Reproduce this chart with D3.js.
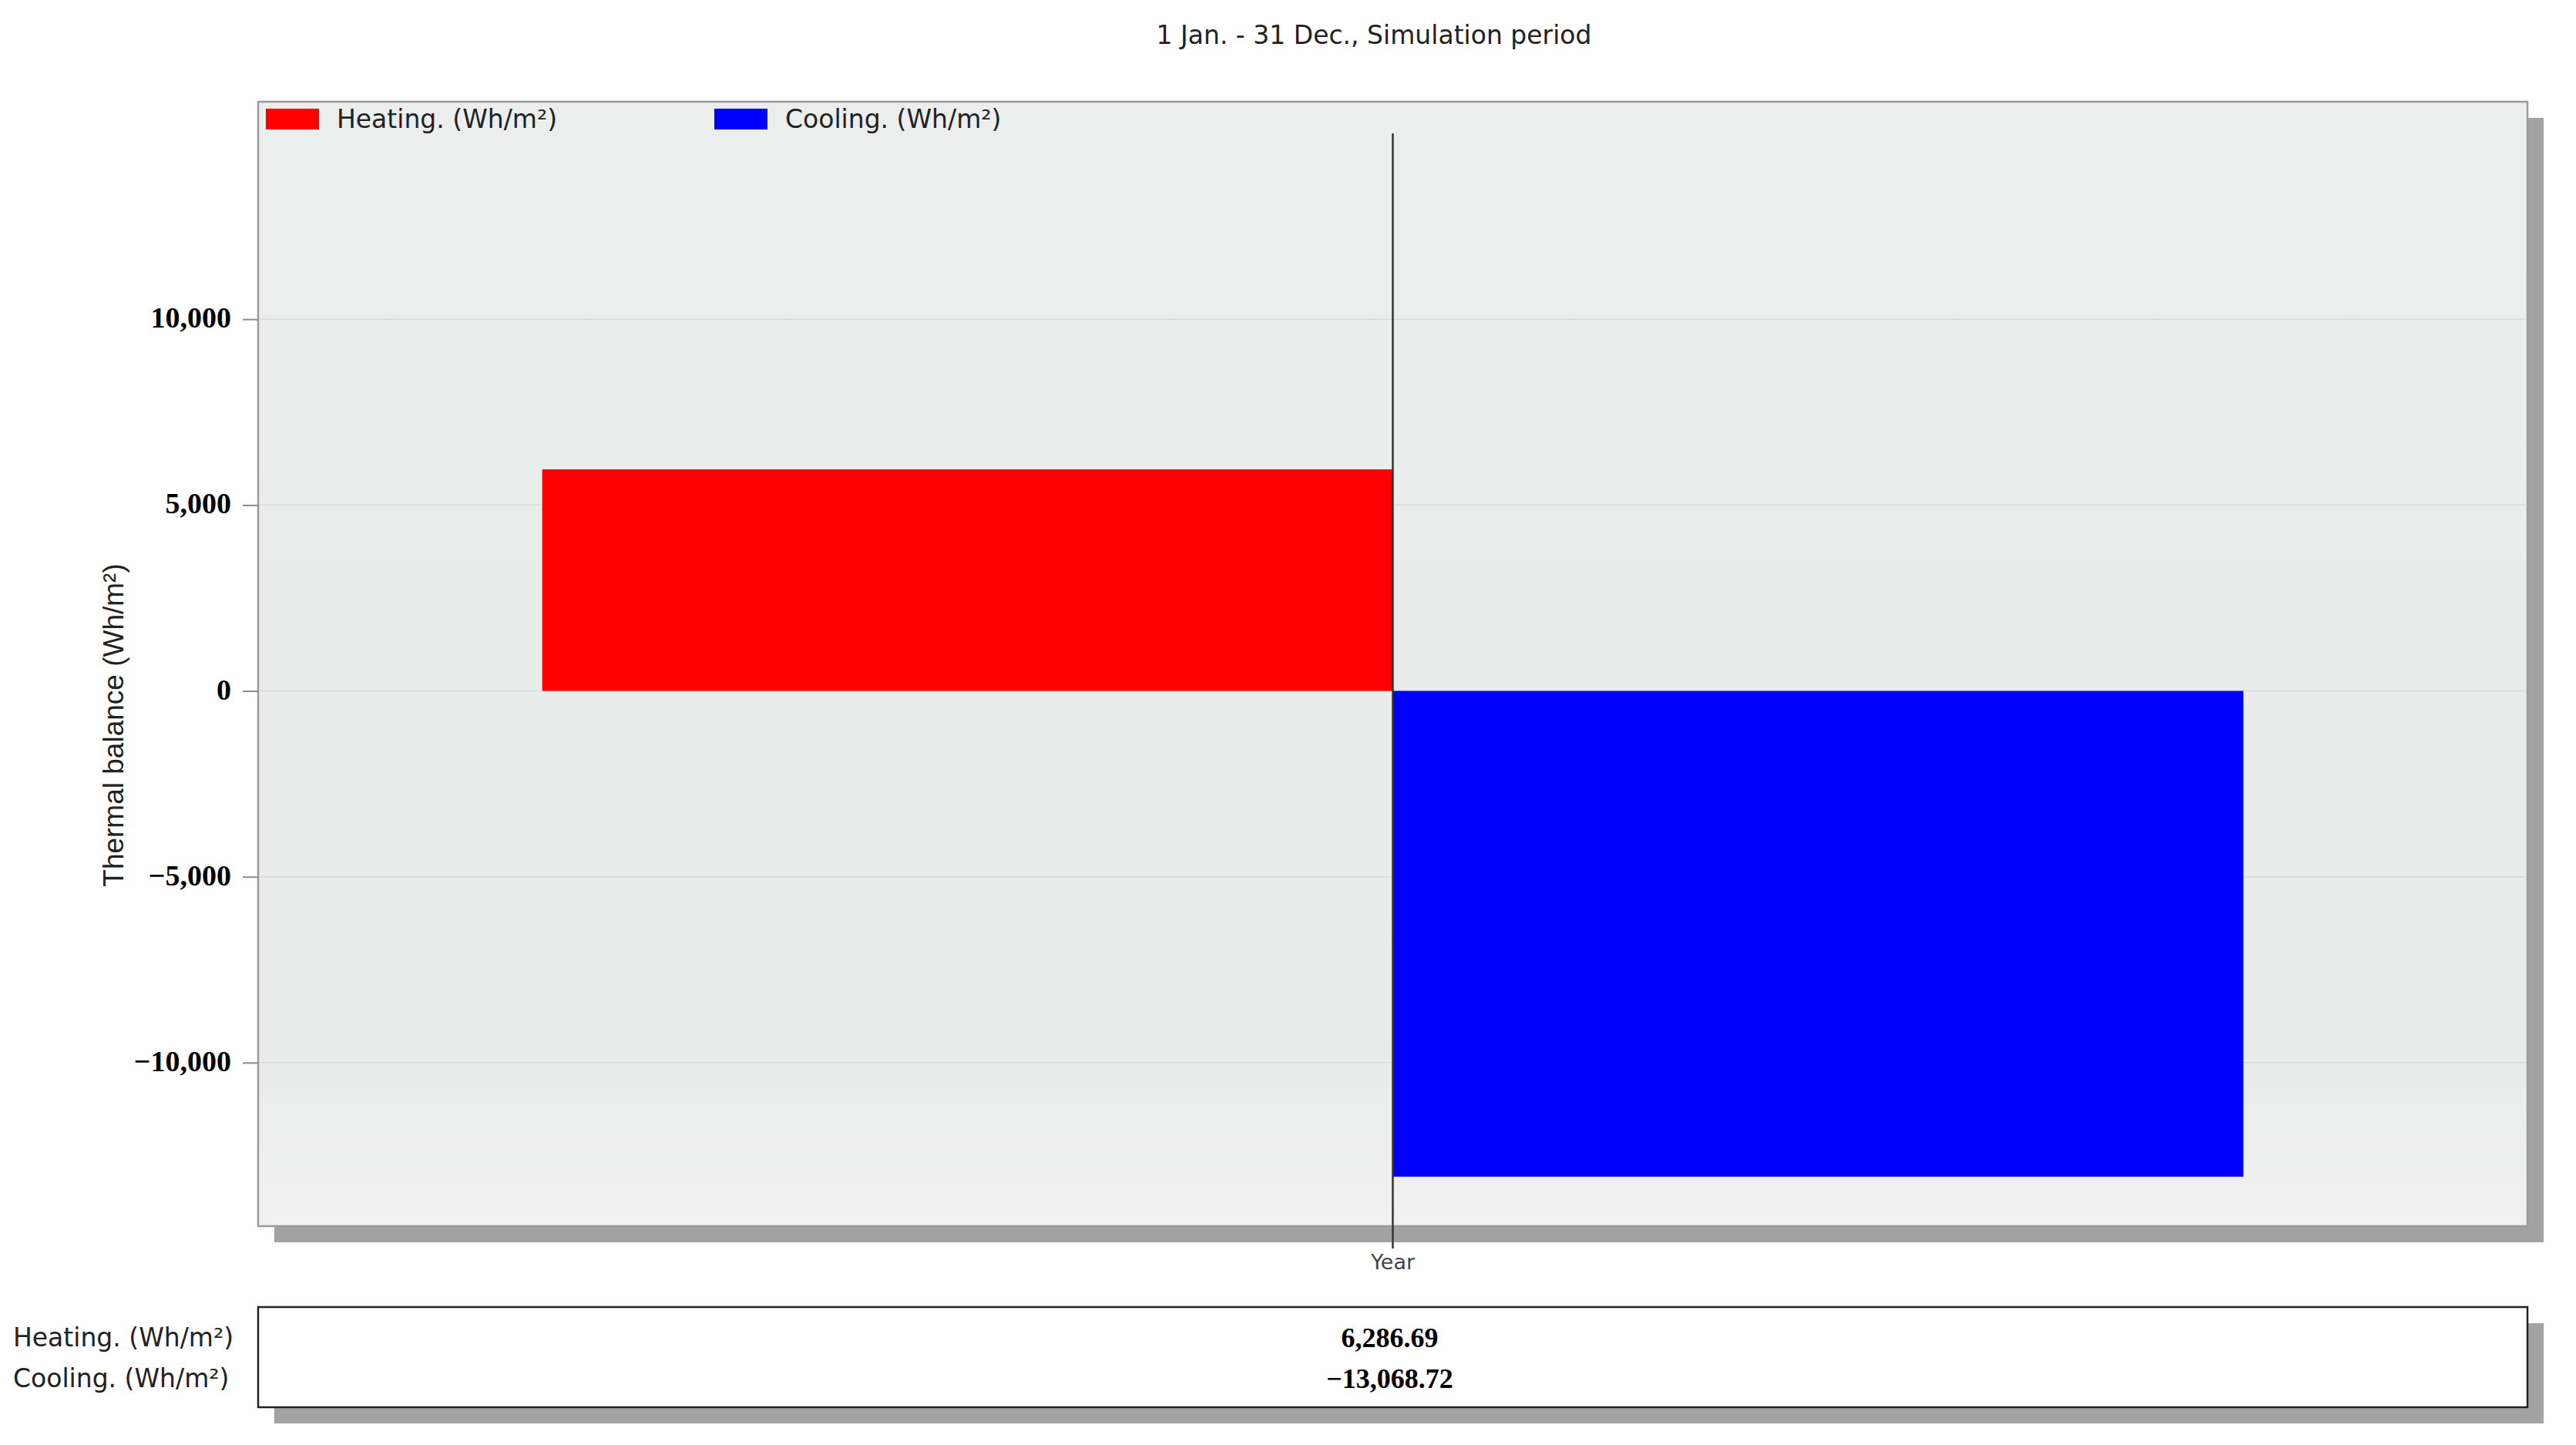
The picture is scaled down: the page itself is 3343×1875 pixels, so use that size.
<!DOCTYPE html>
<html>
<head>
<meta charset="utf-8">
<script src="https://cdn.jsdelivr.net/npm/d3@7"></script>
<style>
  html, body { margin: 0; padding: 0; background: #fff; }
  .tick-label text { font-family: "Liberation Serif", "Times New Roman", serif; font-weight: bold; }
</style>
</head>
<body>
<div id="chart"></div>
<script>
// data
var categories = ["Year"];
var seriesNames = ["Heating. (Wh/m\u00b2)", "Cooling. (Wh/m\u00b2)"];
var barValues = [5960, -13068.72];          // bar heights as drawn
var tableValues = [6286.69, -13068.72];     // values printed in the table under the chart
var yTicks = [-10000, -5000, 0, 5000, 10000];
var yDomain = [-15000, 15000];
var titleText = "1 Jan. - 31 Dec., Simulation period";
var yLabel = "Thermal balance (Wh/m\u00b2)";

var W = 3343, H = 1875;
var box = {left: 335, right: 3280, top: 132, bottom: 1591};
var shadow = 21;

var color = d3.scaleOrdinal().domain(seriesNames).range(["#ff0000", "#0000ff"]);

var svg = d3.select("#chart").append("svg")
    .attr("width", W)
    .attr("height", H);

svg.append("rect").attr("width", W).attr("height", H).attr("fill", "#fff");

var defs = svg.append("defs");
var grad = defs.append("linearGradient")
    .attr("id", "bg").attr("x1", 0).attr("y1", 0).attr("x2", 0).attr("y2", 1);
grad.append("stop").attr("offset", "0%").attr("stop-color", "#eceeed");
grad.append("stop").attr("offset", "85%").attr("stop-color", "#e9ebea");
grad.append("stop").attr("offset", "100%").attr("stop-color", "#f1f1f1");

// scales
var y = d3.scaleLinear().domain(yDomain).range([1620, 173]);

var x0 = d3.scaleBand()
    .domain(categories)
    .range([box.left, box.right])
    .paddingInner(0)
    .paddingOuter(0.167);

var x1 = d3.scaleBand()
    .domain(seriesNames)
    .range([0, x0.bandwidth()]);

// title
svg.append("text")
    .attr("x", 1783)
    .attr("y", 45)
    .attr("dy", "0.35em")
    .attr("text-anchor", "middle")
    .style("font-family", "DejaVu Sans, sans-serif")
    .style("font-size", "33px")
    .style("fill", "#222")
    .text(titleText);

// plot frame with shadow
svg.append("rect")
    .attr("x", box.left + shadow)
    .attr("y", box.top + shadow)
    .attr("width", box.right - box.left)
    .attr("height", box.bottom - box.top)
    .attr("fill", "#a2a2a2");

svg.append("rect")
    .attr("x", box.left)
    .attr("y", box.top)
    .attr("width", box.right - box.left)
    .attr("height", box.bottom - box.top)
    .attr("fill", "url(#bg)")
    .attr("stroke", "#9a9a9a")
    .attr("stroke-width", 2.5);

// grid lines
svg.append("g").selectAll("line")
    .data(yTicks)
    .enter().append("line")
    .attr("x1", box.left + 2)
    .attr("x2", box.right - 2)
    .attr("y1", function(d) { return y(d); })
    .attr("y2", function(d) { return y(d); })
    .attr("stroke", "#d9dcdb")
    .attr("stroke-width", 1.5);

// y axis
var yAxis = svg.append("g")
    .attr("class", "tick-label")
    .attr("transform", "translate(" + box.left + ",0)")
    .call(d3.axisLeft(y)
        .tickValues(yTicks)
        .tickFormat(d3.format(","))
        .tickSize(20)
        .tickPadding(15));
yAxis.select(".domain").remove();
yAxis.selectAll(".tick line").attr("stroke", "#8a8a8a").attr("stroke-width", 2);
yAxis.selectAll(".tick text")
    .attr("dy", "0.28em")
    .style("font-size", "38px")
    .style("fill", "#000");

svg.append("text")
    .attr("transform", "translate(147,941) rotate(-90)")
    .attr("text-anchor", "middle")
    .attr("dy", "0.35em")
    .style("font-family", "Liberation Sans, Arial, sans-serif")
    .style("font-size", "37px")
    .style("fill", "#222")
    .text(yLabel);

// bars
var groups = svg.append("g").selectAll("g")
    .data(categories)
    .enter().append("g")
    .attr("transform", function(d) { return "translate(" + x0(d) + ",0)"; });

groups.selectAll("rect")
    .data(seriesNames.map(function(s, i) { return {name: s, value: barValues[i]}; }))
    .enter().append("rect")
    .attr("x", function(d) { return x1(d.name); })
    .attr("width", x1.bandwidth())
    .attr("y", function(d) { return y(Math.max(0, d.value)); })
    .attr("height", function(d) { return Math.abs(y(d.value) - y(0)); })
    .attr("fill", function(d) { return color(d.name); });

// category axis: a long tick through the middle of the band
var xAxis = svg.append("g")
    .attr("transform", "translate(0," + y(yDomain[0]) + ")")
    .call(d3.axisBottom(x0)
        .tickSizeInner(-(y(yDomain[0]) - y(yDomain[1])))
        .tickSizeOuter(0)
        .tickPadding(8));
xAxis.select(".domain").remove();
xAxis.selectAll(".tick line").attr("stroke", "#333").attr("stroke-width", 2.5);
xAxis.selectAll(".tick text")
    .style("font-family", "DejaVu Sans, sans-serif")
    .style("font-size", "27px")
    .style("fill", "#444");

// legend
var legend = svg.append("g").selectAll("g")
    .data(seriesNames)
    .enter().append("g")
    .attr("transform", function(d, i) { return "translate(" + (345 + i * 582) + ",141)"; });

legend.append("rect")
    .attr("width", 69)
    .attr("height", 27)
    .attr("fill", function(d) { return color(d); });

legend.append("text")
    .attr("x", 92)
    .attr("y", 13)
    .attr("dy", "0.35em")
    .style("font-family", "DejaVu Sans, sans-serif")
    .style("font-size", "33px")
    .style("fill", "#222")
    .text(function(d) { return d; });

// table under the chart
var table = {top: 1696, bottom: 1826};
svg.append("rect")
    .attr("x", box.left + shadow)
    .attr("y", table.top + shadow)
    .attr("width", box.right - box.left)
    .attr("height", table.bottom - table.top)
    .attr("fill", "#a2a2a2");
svg.append("rect")
    .attr("x", box.left)
    .attr("y", table.top)
    .attr("width", box.right - box.left)
    .attr("height", table.bottom - table.top)
    .attr("fill", "#fff")
    .attr("stroke", "#222")
    .attr("stroke-width", 2.5);

var rowY = d3.scalePoint().domain(seriesNames).range([1735, 1788]);

svg.append("g").selectAll("text")
    .data(seriesNames)
    .enter().append("text")
    .attr("x", 17)
    .attr("y", function(d) { return rowY(d); })
    .attr("dy", "0.35em")
    .style("font-family", "DejaVu Sans, sans-serif")
    .style("font-size", "33px")
    .style("fill", "#222")
    .text(function(d) { return d; });

svg.append("g").selectAll("text")
    .data(tableValues)
    .enter().append("text")
    .attr("x", x0(categories[0]) + x0.bandwidth() / 2 - 4)
    .attr("y", function(d, i) { return rowY(seriesNames[i]); })
    .attr("dy", "0.35em")
    .attr("text-anchor", "middle")
    .style("font-family", "Liberation Serif, Times New Roman, serif")
    .style("font-weight", "bold")
    .style("font-size", "36px")
    .style("fill", "#000")
    .text(function(d) { return d3.format(",.2f")(d); });
</script>
</body>
</html>
